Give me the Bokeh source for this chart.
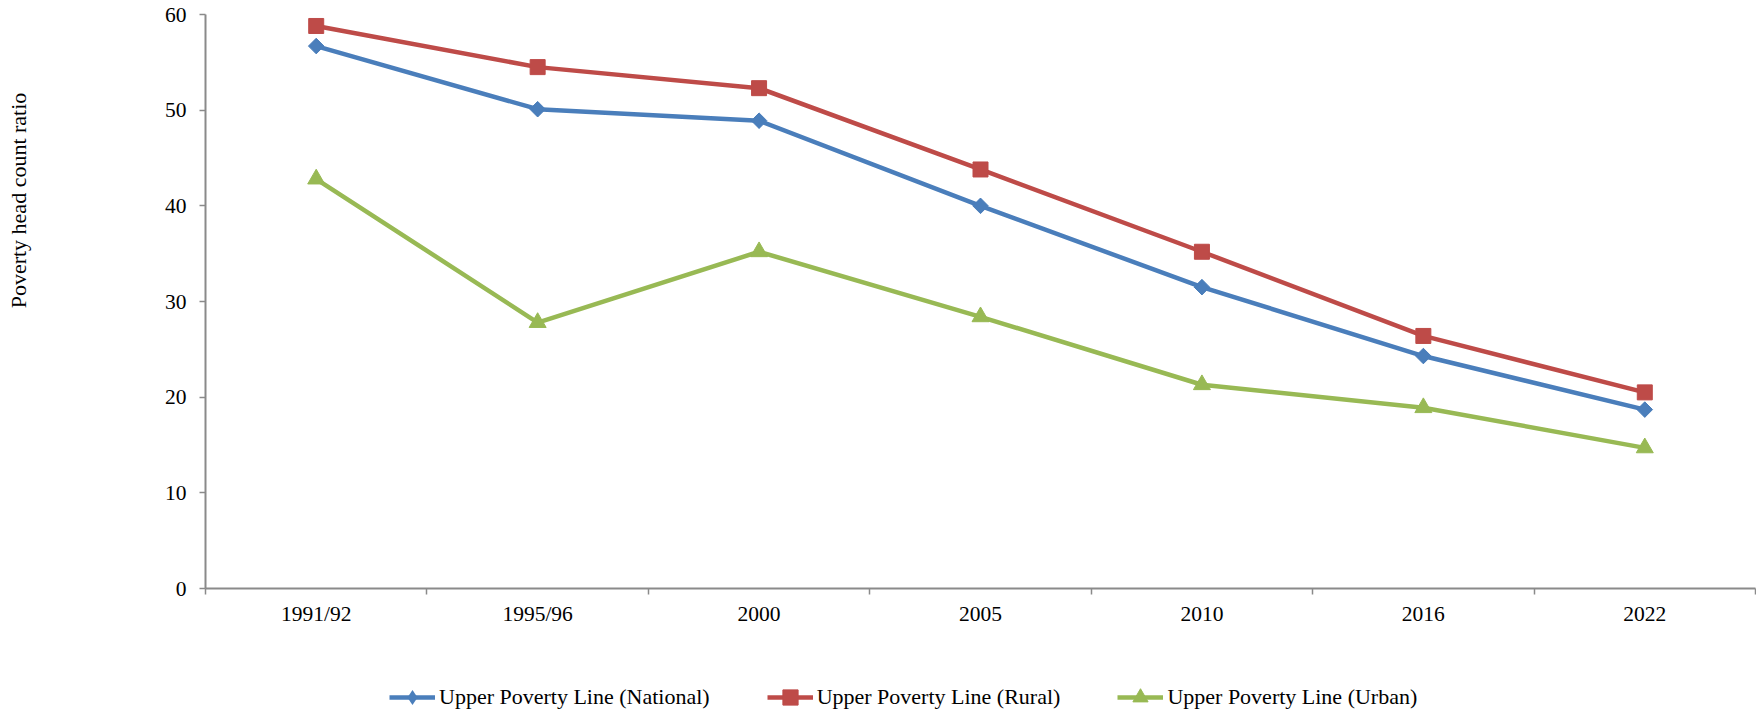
import math

from bokeh.embed import file_html
from bokeh.models import (ColumnDataSource, FixedTicker, Label, Legend,
                          LegendItem, LinearAxis, Range1d)
from bokeh.plotting import figure
from bokeh.resources import INLINE

# Survey rounds and upper-poverty-line headcount ratios (%)
periods = ["1991/92", "1995/96", "2000", "2005", "2010", "2016", "2022"]
national = [56.7, 50.1, 48.9, 40.0, 31.5, 24.3, 18.7]
rural = [58.8, 54.5, 52.3, 43.8, 35.2, 26.4, 20.5]
urban = [42.8, 27.8, 35.2, 28.4, 21.3, 18.9, 14.7]
y_ticks = [0, 10, 20, 30, 40, 50, 60]

FONT = "Liberation Serif"
AXIS_GREY = "#8a8a8a"
W, H = 1756, 719

# plot-area placement inside the canvas (pixels)
LEFT, RIGHT, TOP, BOTTOM = 205, 1755, 14, 588
n = len(periods)
y_max = 60

# each survey round sits in the middle of its own unit-wide band
xs = [i + 0.5 for i in range(n)]

# the frame spans the whole canvas; ranges are widened so that the
# plotting area proper (0..n, 0..60) lands at LEFT..RIGHT, BOTTOM..TOP
px_x = (RIGHT - LEFT) / n
px_y = (BOTTOM - TOP) / y_max
x_range = Range1d(-LEFT / px_x, n + (W - RIGHT) / px_x)
y_range = Range1d(-(H - BOTTOM) / px_y, y_max + TOP / px_y)

p = figure(
    width=W, height=H, x_range=x_range, y_range=y_range,
    output_backend="svg", toolbar_location=None,
    x_axis_type=None, y_axis_type=None,
    min_border=0,
)
p.outline_line_color = None
p.xgrid.visible = False
p.ygrid.visible = False
p.background_fill_color = "white"
p.border_fill_color = "white"

# category axis: labels at band centres, small ticks at band edges
xaxis = LinearAxis(
    ticker=FixedTicker(ticks=xs, minor_ticks=list(range(n + 1))),
    major_label_overrides={x: lab for x, lab in zip(xs, periods)},
    fixed_location=0, bounds=(0, n),
)
xaxis.major_tick_out = 0
xaxis.major_tick_in = 0
xaxis.minor_tick_out = 6
xaxis.minor_tick_in = 0
xaxis.minor_tick_line_color = AXIS_GREY
xaxis.minor_tick_line_width = 1.5
xaxis.axis_line_color = AXIS_GREY
xaxis.axis_line_width = 2
xaxis.major_label_standoff = 7
xaxis.major_label_text_font = FONT
xaxis.major_label_text_font_size = "21.5px"
xaxis.major_label_text_color = "black"
p.add_layout(xaxis, "below")

yaxis = LinearAxis(ticker=FixedTicker(ticks=y_ticks), fixed_location=0,
                   bounds=(0, y_max))
yaxis.major_tick_out = 6
yaxis.major_tick_in = 0
yaxis.minor_tick_out = 0
yaxis.minor_tick_in = 0
yaxis.major_tick_line_color = AXIS_GREY
yaxis.major_tick_line_width = 1.5
yaxis.axis_line_color = AXIS_GREY
yaxis.axis_line_width = 2
yaxis.major_label_standoff = 13
yaxis.major_label_text_font = FONT
yaxis.major_label_text_font_size = "21.5px"
yaxis.major_label_text_color = "black"
p.add_layout(yaxis, "left")

items = []

# National: wide diamond (a square turned 45°) with a narrow diamond inside
# it; the narrow one is what the legend key shows
src_nat = ColumnDataSource(dict(x=xs, y=national))
ln = p.line("x", "y", source=src_nat, line_color="#4A7EBB", line_width=4.5)
p.scatter("x", "y", source=src_nat, marker="square", size=11, angle=math.pi / 4,
          fill_color="#4A7EBB", line_color="#4A7EBB", line_width=1)
key = p.scatter("x", "y", source=src_nat, marker="diamond", size=15.5,
                fill_color="#4A7EBB", line_color="#4A7EBB", line_width=0)
items.append(LegendItem(label="Upper Poverty Line (National)", renderers=[ln, key]))

# Rural and Urban
for name, vals, color, marker, size in [
    ("Upper Poverty Line (Rural)", rural, "#BE4B48", "square", 15),
    ("Upper Poverty Line (Urban)", urban, "#98B954", "triangle", 17),
]:
    src = ColumnDataSource(dict(x=xs, y=vals))
    ln = p.line("x", "y", source=src, line_color=color, line_width=4.5)
    sc = p.scatter("x", "y", source=src, marker=marker, size=size,
                   fill_color=color, line_color=color, line_width=1)
    items.append(LegendItem(label=name, renderers=[ln, sc]))

legend = Legend(
    items=items, orientation="horizontal", location=(389, 3),
    padding=0, margin=0, spacing=57,
    glyph_width=46, glyph_height=38, label_height=38, label_standoff=4,
    label_text_font=FONT, label_text_font_size="22px", label_text_color="black",
    border_line_color=None, background_fill_alpha=0,
)
p.add_layout(legend, "center")

# y-axis title near the left edge, level with the upper part of the chart
p.add_layout(Label(
    x=17.5, y=H - 200, x_units="screen", y_units="screen",
    text="Poverty head count ratio", angle=math.pi / 2,
    text_align="center", text_baseline="middle",
    text_font=FONT, text_font_size="22px", text_color="black",
))

open("out.html", "w").write(file_html(p, INLINE))
